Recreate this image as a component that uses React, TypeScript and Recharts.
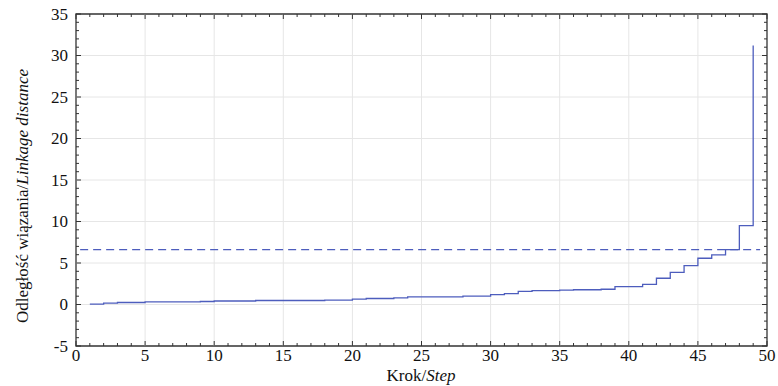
import {
    LineChart,
    Line,
    XAxis,
    YAxis,
    ReferenceLine,
    ReferenceArea,
    Label,
} from "recharts";

// krok aglomeracji / agglomeration step
const steps = [
    1, 2, 3, 4, 5, 6, 7, 8, 9, 10,
    11, 12, 13, 14, 15, 16, 17, 18, 19, 20,
    21, 22, 23, 24, 25, 26, 27, 28, 29, 30,
    31, 32, 33, 34, 35, 36, 37, 38, 39, 40,
    41, 42, 43, 44, 45, 46, 47, 48, 49,
];

// odległość wiązania / linkage distance
const linkage = [
    0.05, 0.16, 0.24, 0.24, 0.32, 0.32, 0.32, 0.32, 0.36, 0.42,
    0.42, 0.42, 0.48, 0.48, 0.48, 0.48, 0.48, 0.52, 0.52, 0.64,
    0.72, 0.72, 0.8, 0.92, 0.92, 0.92, 0.92, 1.0, 1.0, 1.2,
    1.32, 1.58, 1.66, 1.66, 1.72, 1.78, 1.78, 1.84, 2.16, 2.16,
    2.42, 3.16, 3.88, 4.69, 5.57, 5.97, 6.61, 9.5, 31.2,
];

const cutoffValue = 6.6;
const cutoffFrom = 0.3;
const cutoffTo = 49.5;

const xTicks = [
    0, 1, 2, 3, 4, 5, 6, 7, 8, 9, 10,
    11, 12, 13, 14, 15, 16, 17, 18, 19, 20,
    21, 22, 23, 24, 25, 26, 27, 28, 29, 30,
    31, 32, 33, 34, 35, 36, 37, 38, 39, 40,
    41, 42, 43, 44, 45, 46, 47, 48, 49, 50,
];
const yTicks = [
    -5, -4, -3, -2, -1, 0, 1, 2, 3, 4, 5,
    6, 7, 8, 9, 10, 11, 12, 13, 14, 15,
    16, 17, 18, 19, 20, 21, 22, 23, 24, 25,
    26, 27, 28, 29, 30, 31, 32, 33, 34, 35,
];
const gridX = [5, 10, 15, 20, 25, 30, 35, 40, 45];
const gridY = [0, 5, 10, 15, 20, 25, 30];

const data = steps.map((s, i) => ({ step: s, dist: linkage[i] }));

const W = 778;
const H = 386;
const PLOT_W = 691;
const PLOT_H = 332;
const FONT = "'Liberation Serif', 'DejaVu Serif', 'Times New Roman', Times, serif";
const BLUE = "#4d5dbd";
const FRAME = "#333333";
const GRID = "#e6e6e6";

const textStyle = { fontFamily: FONT, fontSize: 17, fill: "#111" };

const XTick = (props: any) => {
    const { x, y, payload } = props;
    const v = payload.value;
    const major = v % 5 === 0;
    const len = major ? 5 : 3;
    return (
        <g>
            <line x1={x} x2={x} y1={y} y2={y - len} stroke={FRAME} />
            <line x1={x} x2={x} y1={y - PLOT_H} y2={y - PLOT_H + len} stroke={FRAME} />
            {major && (
                <text x={x} y={y + 15} textAnchor="middle" style={textStyle}>
                    {v}
                </text>
            )}
        </g>
    );
};

const YTick = (props: any) => {
    const { x, y, payload } = props;
    const v = payload.value;
    const major = v % 5 === 0;
    const len = major ? 5 : 3;
    return (
        <g>
            <line x1={x} x2={x + len} y1={y} y2={y} stroke={FRAME} />
            <line x1={x + PLOT_W} x2={x + PLOT_W - len} y1={y} y2={y} stroke={FRAME} />
            {major && (
                <text x={x - 8} y={y} dy="0.35em" textAnchor="end" style={textStyle}>
                    {v}
                </text>
            )}
        </g>
    );
};

export default function App() {
    return (
        <div
            style={{
                position: "absolute",
                left: 0,
                top: 0,
                width: W,
                height: H,
                background: "#fff",
                fontFamily: FONT,
            }}
        >
            <LineChart
                width={W}
                height={H}
                data={data}
                style={{ fontFamily: FONT }}
                margin={{ top: 14, right: 11, bottom: 0, left: 0 }}
            >
                {gridX.map((v) => (
                    <ReferenceLine key={"gx" + v} x={v} stroke={GRID} strokeWidth={1} />
                ))}
                {gridY.map((v) => (
                    <ReferenceLine key={"gy" + v} y={v} stroke={GRID} strokeWidth={1} />
                ))}
                <XAxis
                    dataKey="step"
                    type="number"
                    domain={[0, 50]}
                    ticks={xTicks}
                    interval={0}
                    height={40}
                    tickSize={0}
                    tickMargin={0}
                    tickLine={false}
                    axisLine={false}
                    tick={<XTick />}
                >
                    <Label
                        content={() => (
                            <text x={421} y={381} textAnchor="middle" style={textStyle}>
                                <tspan>Krok/</tspan>
                                <tspan fontStyle="italic">Step</tspan>
                            </text>
                        )}
                    />
                </XAxis>
                <YAxis
                    type="number"
                    domain={[-5, 35]}
                    ticks={yTicks}
                    interval={0}
                    width={76}
                    tickSize={0}
                    tickMargin={0}
                    tickLine={false}
                    axisLine={false}
                    tick={<YTick />}
                >
                    <Label
                        content={() => (
                            <text
                                x={28}
                                y={196}
                                transform="rotate(-90 28 196)"
                                textAnchor="middle"
                                style={textStyle}
                            >
                                <tspan>Odległość wiązania/</tspan>
                                <tspan fontStyle="italic">Linkage distance</tspan>
                            </text>
                        )}
                    />
                </YAxis>
                <ReferenceLine
                    segment={[
                        { x: cutoffFrom, y: cutoffValue },
                        { x: cutoffTo, y: cutoffValue },
                    ]}
                    stroke={BLUE}
                    strokeWidth={1.3}
                    strokeDasharray="8 5"
                />
                <Line
                    type="stepAfter"
                    dataKey="dist"
                    stroke={BLUE}
                    strokeWidth={1.3}
                    dot={false}
                    isAnimationActive={false}
                />
                <ReferenceArea
                    x1={0}
                    x2={50}
                    y1={-5}
                    y2={35}
                    fill="none"
                    fillOpacity={0}
                    stroke={FRAME}
                    strokeWidth={1.3}
                />
            </LineChart>
        </div>
    );
}
